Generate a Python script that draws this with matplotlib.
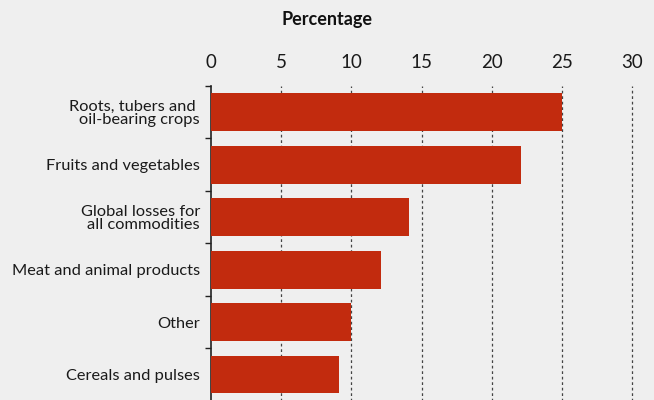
import matplotlib
matplotlib.use("Agg")
import matplotlib.pyplot as plt
import numpy as np

categories = ["Roots, tubers and \noil-bearing crops", "Fruits and vegetables",
              "Global losses for\nall commodities", "Meat and animal products",
              "Other", "Cereals and pulses"]
values = [25.0, 22.1, 14.1, 12.1, 10.0, 9.1]
xticks = [0, 5, 10, 15, 20, 25, 30]
xlabel = "Percentage"

bg = "#efefef"
bar_color = "#c22b0e"
plt.rcParams['font.family'] = ['Lato', 'DejaVu Sans']

fig = plt.figure(figsize=(6.54, 4.0), dpi=100, facecolor=bg)
ax = fig.add_axes([211/654, -0.002, 421/654, 1 - 86/400 + 0.002])
ax.set_facecolor(bg)

y = np.arange(len(categories))
ax.barh(y, values, height=0.72, color=bar_color, zorder=3)
ax.set_ylim(len(categories) - 0.5, -0.5)
ax.set_xlim(0, 30)

ax.xaxis.tick_top()
ax.set_xticks(xticks)
ax.set_xticklabels([str(t) for t in xticks], fontsize=13.5, color="#1a1a1a")
ax.tick_params(axis='x', length=0, pad=11)
for t in xticks[1:]:
    ax.axvline(t, color="#444444", lw=0.9, ls=(0, (2.2, 2.2)), zorder=1,
               clip_on=False)

ax.set_yticks(y)
ax.set_yticklabels(categories, fontsize=11.8, color="#1a1a1a", linespacing=0.95)
ax.tick_params(axis='y', which='major', length=0, pad=8)
ax.set_yticks(np.arange(-0.5, len(categories)), minor=True)
ax.tick_params(axis='y', which='minor', length=4, width=1.0, color="#222222")

for s in ["top", "right", "bottom"]:
    ax.spines[s].set_visible(False)
ax.spines["left"].set_color("#222222")
ax.spines["left"].set_linewidth(1.2)

fig.text(327/654, 1 - 20/400, xlabel, ha="center", va="center",
         fontsize=13, fontweight="bold", color="#111111")

fig.savefig("out.png", dpi=100, facecolor=bg)
